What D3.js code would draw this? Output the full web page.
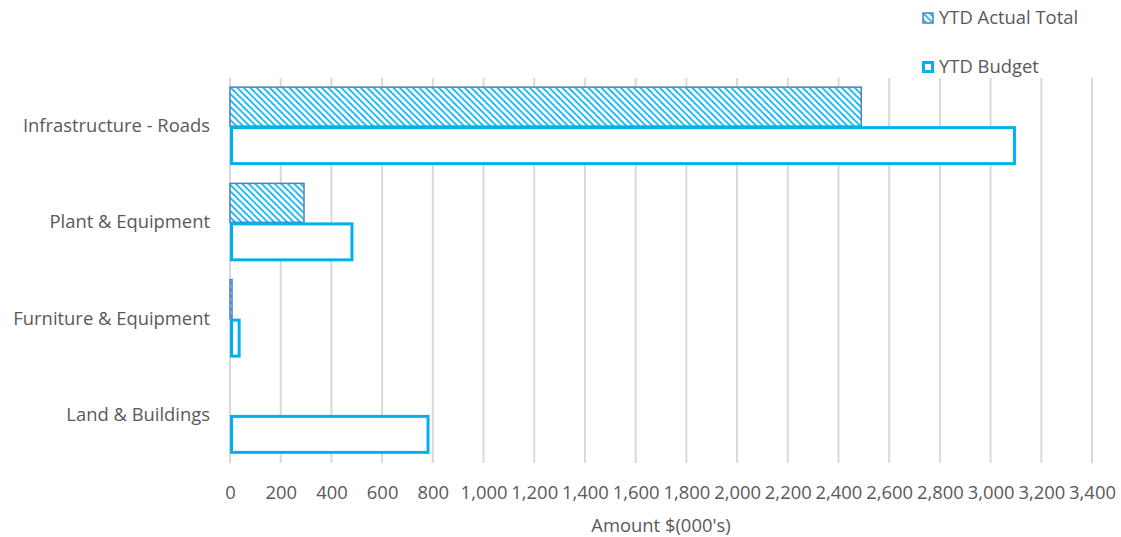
<!DOCTYPE html>
<html><head><meta charset="utf-8">
<script src="https://cdn.jsdelivr.net/npm/d3@7"></script>
<style>body{margin:0;background:#fff}svg{display:block}</style>
</head><body>
<script>
const categories = ["Infrastructure - Roads", "Plant & Equipment", "Furniture & Equipment", "Land & Buildings"];
const actualValues = [2490, 292, 8, 0];
const budgetValues = [3100, 487, 42, 787];
const seriesNames = ["YTD Actual Total", "YTD Budget"];
const xTicks = [0,200,400,600,800,1000,1200,1400,1600,1800,2000,2200,2400,2600,2800,3000,3200,3400];
const xTitle = "Amount $(000's)";

const W = 1121, H = 537;
const m = {left: 230, right: 29, top: 78, bottom: 74};
const svg = d3.select("body").append("svg").attr("width", W).attr("height", H);
const font = "'Open Sans', sans-serif";
const fs = 18.4;
const textColor = "#595959";

const defs = svg.append("defs");
const pat = defs.append("pattern").attr("id","hatch").attr("patternUnits","userSpaceOnUse")
  .attr("width",6.5).attr("height",6.5);
pat.append("rect").attr("width",6.5).attr("height",6.5).attr("fill","#fff");
pat.append("path").attr("d","M-1,-1 L7.5,7.5 M-1,5.5 L1,7.5 M5.5,-1 L7.5,1").attr("stroke","#00B0F0").attr("stroke-width",1.7);

const x = d3.scaleLinear().domain([0,3400]).range([m.left, W - m.right]);
const y = d3.scaleBand().domain(categories).range([m.top, H - m.bottom]).paddingInner(0.19).paddingOuter(0.095);
const ySub = d3.scaleBand().domain(seriesNames).range([0, y.bandwidth()]);

// gridlines
svg.append("g").selectAll("line").data(xTicks).join("line")
  .attr("x1", d => x(d)).attr("x2", d => x(d))
  .attr("y1", m.top).attr("y2", H - m.bottom)
  .attr("stroke", "#D9D9D9").attr("stroke-width", 2);

// axis
const xAxis = svg.append("g").attr("transform", `translate(0,${H - m.bottom})`)
  .call(d3.axisBottom(x).tickValues(xTicks).tickFormat(d3.format(",")).tickSize(0).tickPadding(23));
xAxis.select(".domain").remove();
xAxis.selectAll("text").attr("font-family", font).attr("font-size", fs).attr("fill", textColor);

const yAxis = svg.append("g").attr("transform", `translate(${m.left - 20},0)`)
  .call(d3.axisLeft(y).tickSize(0).tickPadding(0));
yAxis.select(".domain").remove();
yAxis.selectAll("text").attr("font-family", font).attr("font-size", fs).attr("fill", textColor);

const data = categories.map((c,i) => ({cat: c, actual: actualValues[i], budget: budgetValues[i]}));

// actual bars
svg.append("g").selectAll("rect").data(data.filter(d => d.actual > 0)).join("rect")
  .attr("x", x(0)).attr("y", d => y(d.cat) + ySub(seriesNames[0]))
  .attr("width", d => x(d.actual) - x(0)).attr("height", ySub.bandwidth())
  .attr("fill", "url(#hatch)").attr("stroke", "#4F81BD").attr("stroke-width", 1.5);

// budget bars
svg.append("g").selectAll("rect").data(data).join("rect")
  .attr("x", x(0) + 1.5).attr("y", d => y(d.cat) + ySub(seriesNames[1]) + 1.5)
  .attr("width", d => Math.max(0, x(d.budget) - x(0) - 3)).attr("height", ySub.bandwidth() - 3)
  .attr("fill", "#fff").attr("stroke", "#00B0F0").attr("stroke-width", 3);

// legend
const leg = svg.append("g");
leg.append("rect").attr("x", 923).attr("y", 13).attr("width", 10).attr("height", 10)
  .attr("fill", "url(#hatch)").attr("stroke", "#4F81BD").attr("stroke-width", 1.5);
leg.append("text").attr("x", 939).attr("y", 18).attr("dy","0.35em").text(seriesNames[0])
  .attr("font-family", font).attr("font-size", fs).attr("fill", textColor);
leg.append("rect").attr("x", 923.5).attr("y", 62.5).attr("width", 9).attr("height", 9)
  .attr("fill", "#fff").attr("stroke", "#00B0F0").attr("stroke-width", 3);
leg.append("text").attr("x", 939).attr("y", 67).attr("dy","0.35em").text(seriesNames[1])
  .attr("font-family", font).attr("font-size", fs).attr("fill", textColor);

// axis title
svg.append("text").attr("x", (m.left + W - m.right)/2).attr("y", 532).attr("text-anchor","middle")
  .text(xTitle).attr("font-family", font).attr("font-size", fs).attr("fill", textColor);
</script>
</body></html>
